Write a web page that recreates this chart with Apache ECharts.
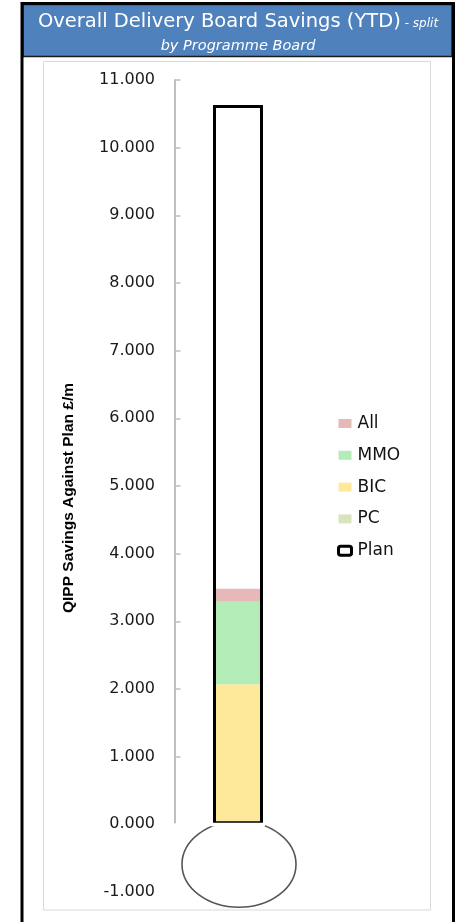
<!DOCTYPE html>
<html>
<head>
<meta charset="utf-8">
<script src="https://cdn.jsdelivr.net/npm/echarts@6/dist/echarts.min.js"></script>
<style>
  html, body { margin: 0; padding: 0; background: #fff; }
  #chart { width: 461px; height: 922px; }
</style>
</head>
<body>
<div id="chart"></div>
<script>
// Savings year-to-date, £m, split by programme board
const categories = ['Savings'];
const pcValues = [0];
const bicValues = [2.07];
const mmoValues = [1.22];
const allValues = [0.19];
const planValues = [10.63];

// value axis range (£m)
const axisMin = -1;
const axisMax = 11;
const axisStep = 1;

const colors = { PC: '#d7e4bd', BIC: '#fee89a', MMO: '#b3ecb7', All: '#e6b8b7' };
const labelFont = 'DejaVu Sans';
const stemWidth = 50;

const chart = echarts.init(document.getElementById('chart'), null, { renderer: 'canvas' });

function stackBar(name, data) {
  return {
    name: name,
    type: 'bar',
    stack: 'savings',
    barWidth: stemWidth,
    barGap: '-100%',
    data: data,
    itemStyle: { color: colors[name] },
    emphasis: { disabled: true }
  };
}

chart.setOption({
  animation: false,
  backgroundColor: '#fff',
  title: {
    text: '{main|Overall Delivery Board Savings (YTD)}{sub| - split}',
    subtext: 'by Programme Board',
    left: 238,
    top: 12,
    textAlign: 'center',
    itemGap: 7,
    padding: 0,
    textStyle: {
      fontWeight: 'normal',
      rich: {
        main: { fontFamily: labelFont, fontSize: 19.5, fontWeight: 'normal', color: '#fff' },
        sub: { fontFamily: labelFont, fontSize: 12, fontStyle: 'italic', fontWeight: 'normal', color: '#fff', padding: [3, 0, 0, 0] }
      }
    },
    subtextStyle: { fontFamily: labelFont, fontSize: 14.5, fontStyle: 'italic', color: '#fff' }
  },
  legend: {
    orient: 'vertical',
    left: 337,
    top: 415,
    padding: 0,
    itemWidth: 13,
    itemHeight: 9,
    itemGap: 14.8,
    icon: 'rect',
    selectedMode: false,
    textStyle: { fontFamily: labelFont, fontSize: 17, color: '#111', padding: [0, 0, 0, 1] },
    data: [
      'All', 'MMO', 'BIC', 'PC',
      { name: 'Plan', icon: 'roundRect', itemStyle: { color: '#fff', borderColor: '#000', borderWidth: 3 } }
    ]
  },
  grid: { left: 175, right: 160, top: 80, bottom: 30 },
  xAxis: {
    type: 'category',
    data: categories,
    show: false
  },
  yAxis: {
    type: 'value',
    min: axisMin,
    max: axisMax,
    interval: axisStep,
    name: 'QIPP Savings Against Plan £/m',
    nameLocation: 'middle',
    nameRotate: 90,
    nameGap: 98,
    nameTextStyle: {
      fontFamily: 'Liberation Sans',
      fontWeight: 'bold',
      fontSize: 15.5,
      color: '#000',
      padding: [0, 24, 0, 0]
    },
    axisLine: { show: true, lineStyle: { color: '#bfbfbf', width: 2 } },
    axisTick: { show: true, inside: true, length: 5.5, lineStyle: { color: '#bfbfbf', width: 1.5 } },
    splitLine: { show: false },
    axisLabel: {
      margin: 20,
      fontFamily: labelFont,
      fontSize: 16,
      color: '#1a1a1a',
      formatter: v => v.toFixed(3)
    }
  },
  series: [
    stackBar('PC', pcValues),
    stackBar('BIC', bicValues),
    stackBar('MMO', mmoValues),
    stackBar('All', allValues),
    {
      name: 'Plan',
      type: 'bar',
      barWidth: stemWidth,
      barGap: '-100%',
      z: 4,
      data: planValues,
      itemStyle: { color: 'rgba(0,0,0,0)', borderColor: '#000', borderWidth: 3 },
      emphasis: { disabled: true }
    }
  ]
});

// Thermometer bulb, frame and header panel, placed from the axis scale
const barX = chart.convertToPixel({ xAxisIndex: 0 }, categories[0]);
const yZero = chart.convertToPixel({ yAxisIndex: 0 }, 0);
const yBottom = chart.convertToPixel({ yAxisIndex: 0 }, axisMin);
const bulbY = chart.convertToPixel({ yAxisIndex: 0 }, -0.59);

chart.setOption({
  graphic: [
    {
      type: 'rect', z: -2, silent: true,
      shape: { x: 43.5, y: 61.5, width: 387, height: 848.5 },
      style: { fill: '#fff', stroke: '#d9d9d9', lineWidth: 1 }
    },
    {
      type: 'rect', z: -1, silent: true,
      shape: { x: 23, y: 4.5, width: 429, height: 52 },
      style: { fill: '#4f81bd', stroke: '#1b1b1b', lineWidth: 1.5 }
    },
    {
      type: 'rect', z: 20, silent: true,
      shape: { x: 22, y: 3.5, width: 431.5, height: 940 },
      style: { fill: 'none', stroke: '#000', lineWidth: 3 }
    },
    {
      // bulb sits behind the foot of the stem
      type: 'ellipse', z: 1, silent: true,
      shape: { cx: barX + 1, cy: bulbY, rx: 57, ry: 43 },
      style: { fill: '#fff', stroke: '#555', lineWidth: 1.6 }
    },
    {
      // stem opens into the bulb: no closing edge at its foot
      type: 'rect', z: 6, silent: true,
      shape: { x: barX - stemWidth / 2 - 2, y: yZero - 1.5, width: stemWidth + 4, height: 3.5 },
      style: { fill: '#fff' }
    },
    {
      // the scale's line stops at zero
      type: 'rect', z: 10, silent: true,
      shape: { x: 169, y: yZero - 1, width: 12, height: yBottom - yZero + 6 },
      style: { fill: '#fff' }
    }
  ]
});
</script>
</body>
</html>
